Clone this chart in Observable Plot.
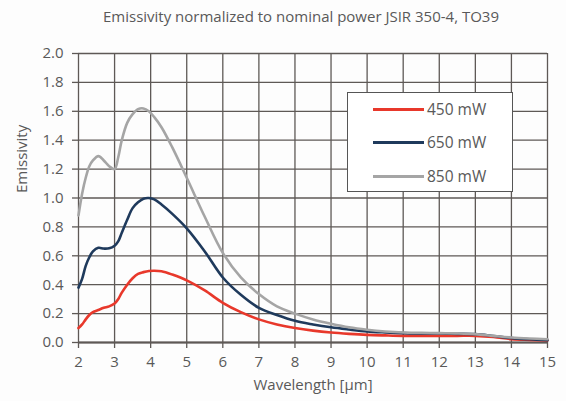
<!DOCTYPE html>
<html>
<head>
<meta charset="utf-8">
<script src="https://cdn.jsdelivr.net/npm/d3@7"></script>
<script src="https://cdn.jsdelivr.net/npm/@observablehq/plot@0.6"></script>
<style>
  html, body { margin: 0; padding: 0; background: #fdfdfd; }
  #wrap { position: relative; width: 566px; height: 401px; font-family: "Open Sans", sans-serif; color: #595959; }
  #title { position: absolute; top: 6px; left: 301px; transform: translateX(-50%); white-space: nowrap; font-size: 15px; line-height: 20px; }
  #legend { position: absolute; left: 347px; top: 92px; width: 166px; height: 100px; border: 1.5px solid #555; background: #fff; box-sizing: border-box; }
  .row { position: absolute; left: 0; height: 22px; }
  .sw { position: absolute; left: 25px; width: 51px; height: 3px; top: 10px; }
  .lab { position: absolute; left: 79px; top: 0; font-size: 15.5px; line-height: 22px; white-space: nowrap; }
</style>
</head>
<body>
<div id="wrap">
  <div id="title"></div>
  <div id="chart"></div>
  <div id="legend"></div>
</div>
<script>
const titleText = "Emissivity normalized to nominal power JSIR 350-4, TO39";
const xLabel = "Wavelength [µm]";
const yLabel = "Emissivity";
const seriesNames = ["450 mW", "650 mW", "850 mW"];
const seriesColors = ["#e8382b", "#1f3a5c", "#a5a5a5"];
const xTicks = [2, 3, 4, 5, 6, 7, 8, 9, 10, 11, 12, 13, 14, 15];
const yTicks = [0, 0.2, 0.4, 0.6, 0.8, 1.0, 1.2, 1.4, 1.6, 1.8, 2.0];

const wavelength = [2, 2.1, 2.2, 2.3, 2.4, 2.55, 2.7, 2.85, 3.0, 3.1, 3.2, 3.35, 3.5, 3.65, 3.8, 3.95, 4.1, 4.3, 4.6, 5.0, 5.5, 6, 6.5, 7, 7.5, 8, 8.5, 9, 9.5, 10, 10.5, 11, 11.5, 12, 12.5, 13, 13.5, 14, 14.5, 15];
const e450 = [0.10, 0.125, 0.16, 0.19, 0.21, 0.225, 0.24, 0.25, 0.27, 0.30, 0.345, 0.40, 0.445, 0.475, 0.487, 0.495, 0.497, 0.493, 0.47, 0.43, 0.36, 0.275, 0.21, 0.16, 0.125, 0.10, 0.082, 0.069, 0.06, 0.053, 0.049, 0.046, 0.046, 0.046, 0.046, 0.046, 0.038, 0.023, 0.018, 0.015];
const e650 = [0.38, 0.44, 0.53, 0.59, 0.63, 0.655, 0.65, 0.652, 0.67, 0.70, 0.76, 0.85, 0.93, 0.97, 0.995, 1.0, 0.99, 0.955, 0.89, 0.79, 0.63, 0.45, 0.33, 0.24, 0.19, 0.15, 0.125, 0.105, 0.09, 0.077, 0.07, 0.065, 0.063, 0.062, 0.06, 0.058, 0.045, 0.03, 0.022, 0.016];
const e850 = [0.88, 1.03, 1.14, 1.22, 1.26, 1.29, 1.26, 1.22, 1.20, 1.28, 1.40, 1.52, 1.58, 1.615, 1.62, 1.60, 1.56, 1.49, 1.35, 1.14, 0.87, 0.62, 0.45, 0.335, 0.25, 0.20, 0.16, 0.13, 0.105, 0.088, 0.076, 0.069, 0.067, 0.065, 0.063, 0.058, 0.046, 0.035, 0.028, 0.023];

document.getElementById("title").textContent = titleText;

const seriesValues = [e450, e650, e850];
const data = [];
seriesNames.forEach((name, i) => {
  wavelength.forEach((w, j) => data.push({series: name, x: w, y: seriesValues[i][j]}));
});

const gridStyle = {stroke: "#5e5956", strokeOpacity: 1, strokeWidth: 1.3};

const chart = Plot.plot({
  width: 566,
  height: 401,
  marginLeft: 78,
  marginRight: 19,
  marginTop: 53,
  marginBottom: 59,
  style: {fontFamily: "'Open Sans', sans-serif", fontSize: "15px", color: "#595959", background: "transparent", overflow: "visible"},
  x: {domain: [2, 15]},
  y: {domain: [0, 2]},
  color: {domain: seriesNames, range: seriesColors},
  marks: [
    Plot.gridX(xTicks, gridStyle),
    Plot.gridY(yTicks, gridStyle),
    Plot.axisX(xTicks, {tickSize: 6, tickPadding: 8, stroke: "#5e5956", strokeWidth: 1.3, fontSize: 15, label: xLabel, labelAnchor: "center", labelArrow: "none", labelOffset: 47}),
    Plot.axisY(yTicks, {tickSize: 6, tickPadding: 9, stroke: "#5e5956", strokeWidth: 1.3, fontSize: 15, tickFormat: d3.format(".1f"), label: null}),
    Plot.text([yLabel], {frameAnchor: "left", rotate: -90, dx: -56, dy: -5, fontSize: 15, fill: "#595959"}),
    Plot.ruleY([0], {stroke: "#5e5956", strokeWidth: 1.8}),
    Plot.line(data, {x: "x", y: "y", z: "series", stroke: "series", curve: "catmull-rom", strokeWidth: 2.6})
  ]
});
document.getElementById("chart").appendChild(chart);

const legend = document.getElementById("legend");
const rowTops = [5, 38, 72];
seriesNames.forEach((name, i) => {
  const row = document.createElement("div");
  row.className = "row";
  row.style.top = rowTops[i] + "px";
  const sw = document.createElement("div");
  sw.className = "sw";
  sw.style.background = seriesColors[i];
  const lab = document.createElement("div");
  lab.className = "lab";
  lab.textContent = name;
  row.appendChild(sw);
  row.appendChild(lab);
  legend.appendChild(row);
});
</script>
</body>
</html>
